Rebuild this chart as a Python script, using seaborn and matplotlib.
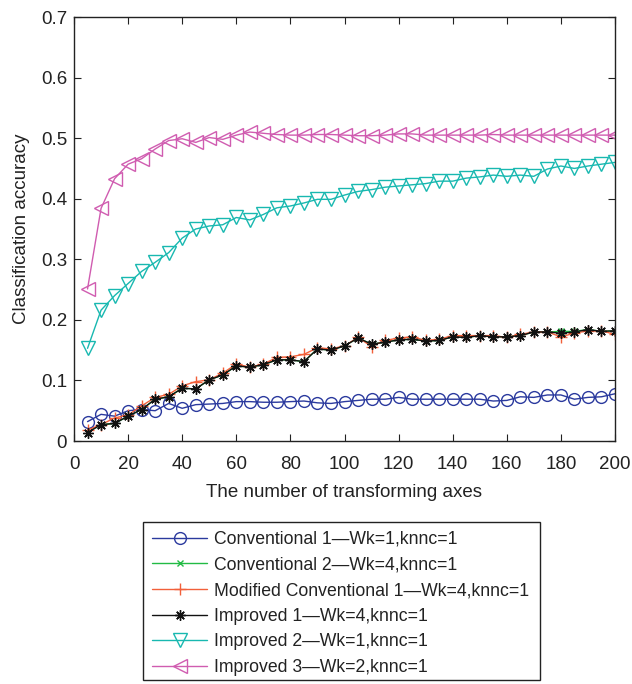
import numpy as np
import pandas as pd
import matplotlib
matplotlib.use("Agg")
import matplotlib.pyplot as plt
from matplotlib.patches import Rectangle
import seaborn as sns

axes_n = list(range(5, 201, 5))

conv1 = [0.032, 0.044, 0.041, 0.050, 0.052, 0.050, 0.062, 0.054, 0.060, 0.061,
         0.062, 0.065, 0.065, 0.064, 0.064, 0.065, 0.066, 0.063, 0.062, 0.065,
         0.067, 0.069, 0.069, 0.072, 0.069, 0.069, 0.069, 0.069, 0.069, 0.069,
         0.066, 0.067, 0.073, 0.072, 0.076, 0.076, 0.069, 0.072, 0.073, 0.078]
conv2 = [0.014, 0.027, 0.029, 0.041, 0.052, 0.069, 0.073, 0.087, 0.086, 0.101,
         0.109, 0.124, 0.122, 0.126, 0.134, 0.134, 0.131, 0.152, 0.150, 0.157,
         0.170, 0.160, 0.163, 0.167, 0.168, 0.165, 0.166, 0.172, 0.171, 0.174,
         0.172, 0.172, 0.174, 0.180, 0.180, 0.181, 0.181, 0.184, 0.181, 0.182]
mod_conv1 = [0.018, 0.027, 0.038, 0.043, 0.058, 0.072, 0.077, 0.091, 0.098, 0.101,
             0.112, 0.127, 0.122, 0.127, 0.138, 0.139, 0.143, 0.154, 0.152, 0.157,
             0.171, 0.156, 0.166, 0.170, 0.172, 0.166, 0.168, 0.174, 0.174, 0.174,
             0.174, 0.171, 0.176, 0.180, 0.180, 0.172, 0.178, 0.182, 0.182, 0.176]
imp1 = [0.014, 0.027, 0.029, 0.041, 0.052, 0.069, 0.073, 0.087, 0.086, 0.101,
        0.109, 0.124, 0.122, 0.126, 0.134, 0.134, 0.131, 0.152, 0.150, 0.157,
        0.170, 0.160, 0.163, 0.167, 0.168, 0.165, 0.166, 0.172, 0.171, 0.174,
        0.172, 0.172, 0.174, 0.180, 0.180, 0.178, 0.180, 0.184, 0.181, 0.182]
imp2 = [0.153, 0.216, 0.240, 0.260, 0.280, 0.295, 0.311, 0.335, 0.350, 0.355,
        0.357, 0.369, 0.365, 0.374, 0.385, 0.388, 0.393, 0.399, 0.399, 0.406,
        0.412, 0.415, 0.419, 0.421, 0.423, 0.425, 0.429, 0.429, 0.434, 0.436,
        0.439, 0.437, 0.439, 0.437, 0.449, 0.454, 0.450, 0.454, 0.457, 0.460]
imp3 = [0.251, 0.384, 0.433, 0.457, 0.466, 0.482, 0.496, 0.499, 0.493, 0.501,
        0.498, 0.505, 0.510, 0.508, 0.506, 0.505, 0.505, 0.506, 0.506, 0.505,
        0.504, 0.504, 0.505, 0.507, 0.507, 0.505, 0.505, 0.505, 0.505, 0.505,
        0.506, 0.505, 0.505, 0.505, 0.505, 0.505, 0.505, 0.505, 0.505, 0.505]

labels = ["Conventional 1\u2014Wk=1,knnc=1",
          "Conventional 2\u2014Wk=4,knnc=1",
          "Modified Conventional 1\u2014Wk=4,knnc=1",
          "Improved 1\u2014Wk=4,knnc=1",
          "Improved 2\u2014Wk=1,knnc=1",
          "Improved 3\u2014Wk=2,knnc=1"]
series = [conv1, conv2, mod_conv1, imp1, imp2, imp3]
colors = ["#2b3a9e", "#22bb44", "#f2603a", "#111111", "#18b8b0", "#d05cb0"]
markers = ["o", "x", "+", (8, 2, 0), "v", "<"]
msizes = [8.5, 5, 9, 7.5, 9.5, 9.5]
filled = [False, True, True, True, False, False]

sns.set_style("ticks")
plt.rcParams["font.family"] = ["Liberation Sans", "DejaVu Sans"]

fig = plt.figure(figsize=(6.32, 6.84), dpi=100)
ax = fig.add_axes([74/632, 1-441/684, (615-74)/632, (441-17)/684])

for lab, vals, c, m, ms, f in zip(labels, series, colors, markers, msizes, filled):
    df = pd.DataFrame({"x": axes_n, "y": vals})
    kw = dict(marker=m, markersize=ms, markeredgecolor=c, markeredgewidth=1.0,
              linewidth=1.0)
    kw["markerfacecolor"] = c if f else "none"
    sns.lineplot(data=df, x="x", y="y", ax=ax, color=c, label=lab, **kw)

ax.set_xlim(0, 200)
ax.set_ylim(0, 0.7)
ax.set_xticks(range(0, 201, 20))
ax.set_yticks(np.arange(0, 0.71, 0.1))
ax.set_yticklabels(["0", "0.1", "0.2", "0.3", "0.4", "0.5", "0.6", "0.7"])
ax.tick_params(direction="in", top=True, right=True, labelsize=13.5, length=5,
               width=0.8, colors="#222222")
ax.tick_params(axis="x", pad=11)
ax.tick_params(axis="y", pad=5)
for sp in ax.spines.values():
    sp.set_linewidth(1.0)
    sp.set_color("#222222")
ax.set_xlabel("The number of transforming axes", fontsize=13.5, color="#222222", labelpad=8)
ax.set_ylabel("Classification accuracy", fontsize=13.5, color="#222222", labelpad=8)

handles, labs = ax.get_legend_handles_labels()
ax.get_legend().remove()
leg = fig.legend(handles, labs, loc="upper left",
                 bbox_to_anchor=(143/632, 1-522/684), fontsize=12.7,
                 frameon=False,
                 handlelength=3.15, handletextpad=0.35, labelspacing=0.49,
                 borderpad=0.5, borderaxespad=0)
for t in leg.get_texts():
    t.set_color("#222222")

frame = Rectangle((143/632, 1-680/684), (540-143)/632, (680-522)/684,
                  transform=fig.transFigure, fill=False, edgecolor="#222222",
                  linewidth=1.0)
fig.add_artist(frame)

fig.savefig("out.png", dpi=100)
